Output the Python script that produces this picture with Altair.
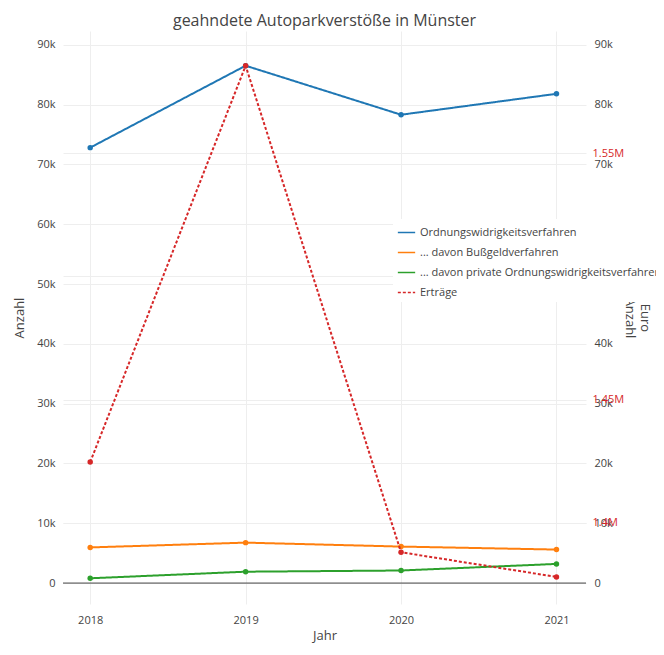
import altair as alt
import pandas as pd

years = [2018, 2019, 2020, 2021]
owi = [72800, 86500, 78300, 81800]
bussgeld = [5960, 6760, 6100, 5600]
privat = [800, 1900, 2100, 3200]
ertraege = [1424600, 1585500, 1388000, 1378000]

series = [
    "Ordnungswidrigkeitsverfahren",
    "... davon Bußgeldverfahren",
    "... davon private Ordnungswidrigkeitsverfahren",
    "Erträge",
]
colors = ["#1f77b4", "#ff7f0e", "#2ca02c", "#d62728"]
dashes = [[1, 0], [1, 0], [1, 0], [3, 2]]

left = pd.DataFrame(
    [
        {"Jahr": y, "value": v, "series": s}
        for s, vals in zip(series[:3], [owi, bussgeld, privat])
        for y, v in zip(years, vals)
    ]
)
right = pd.DataFrame({"Jahr": years, "value": ertraege, "series": series[3]})

GRID = "#eeeeee"
TEXT = "#444444"

x = alt.X(
    "Jahr:Q",
    title="Jahr",
    scale=alt.Scale(domain=[2017.825, 2021.19], nice=False, zero=False),
    axis=alt.Axis(values=years, format="d", grid=True, gridColor=GRID,
                  domain=False, ticks=False, labelPadding=10, titlePadding=4),
)
y_left = alt.Y(
    "value:Q", title="Anzahl",
    scale=alt.Scale(domain=[-3500, 92300], nice=False, zero=False),
    axis=alt.Axis(values=list(range(0, 90001, 10000)),
                  gridColor=GRID, domain=False, ticks=False,
                  labelPadding=8, titlePadding=10,
                  labelExpr="datum.value == 0 ? '0' : datum.value/1000 + 'k'"),
)
color = alt.Color(
    "series:N",
    scale=alt.Scale(domain=series, range=colors),
    legend=alt.Legend(title=None, orient="none", legendX=330, legendY=188,
                      symbolType="stroke", symbolSize=300, labelFontSize=11,
                      labelColor=TEXT, fillColor="white", padding=4, rowPadding=5,
                      labelLimit=300),
)
dash = alt.StrokeDash("series:N", scale=alt.Scale(domain=series, range=dashes),
                      legend=None)

zero = alt.Chart(pd.DataFrame({"value": [0]})).mark_rule(
    color="#444444", strokeWidth=1).encode(y=y_left)
left_chart = (
    alt.Chart(left)
    .mark_line(point=alt.OverlayMarkDef(size=30, filled=True), strokeWidth=2)
    .encode(x=x, y=y_left, color=color, strokeDash=dash)
)
right_chart = (
    alt.Chart(right)
    .mark_line(point=alt.OverlayMarkDef(size=30, filled=True, color="#d62728"), strokeWidth=2)
    .encode(
        x=x,
        y=alt.Y("value:Q", title="Euro",
                scale=alt.Scale(domain=[1367000, 1599600], nice=False, zero=False),
                axis=alt.Axis(orient="right", values=[1400000, 1450000, 1500000, 1550000],
                              labelColor="#d62728", gridColor=GRID, grid=True,
                              domain=False, ticks=False, labelPadding=6, titlePadding=14,
                              labelExpr="datum.value == 1500000 ? '' : format(datum.value/1e6, '~g') + 'M'")),
        color=color,
        strokeDash=dash,
    )
)

chart = (
    alt.layer(zero, left_chart, right_chart)
    .resolve_scale(y="independent")
    .properties(
        width=648,
        height=639,
        autosize=alt.AutoSizeParams(type="fit", contains="padding"),
        title=alt.Title("geahndete Autoparkverstöße in Münster", fontSize=16,
                        fontWeight="normal", color=TEXT, offset=2),
    )
    .configure(font="Open Sans")
    .configure_view(strokeWidth=0)
    .configure_axis(labelColor=TEXT, titleColor=TEXT, labelFontSize=11,
                    titleFontSize=13, titleFontWeight="normal")
)

chart.save("out.html", embed_options={"renderer": "svg", "actions": False})
